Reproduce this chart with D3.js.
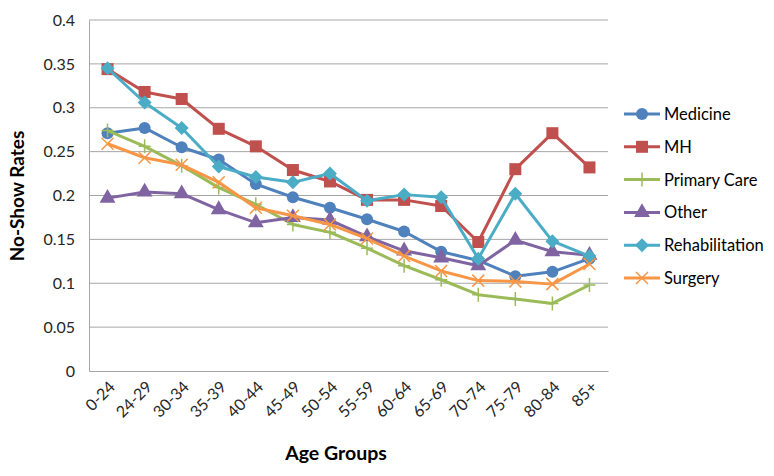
<!DOCTYPE html>
<html><head><meta charset="utf-8">
<script src="https://cdn.jsdelivr.net/npm/d3@7"></script>
<style>body{margin:0;background:#fff}svg{display:block}text{font-family:Lato,"Open Sans",sans-serif}</style>
</head><body><svg id="c" width="774" height="476"></svg>
<script>
const categories = ["0-24","24-29","30-34","35-39","40-44","45-49","50-54","55-59","60-64","65-69","70-74","75-79","80-84","85+"];
const seriesNames = ["Medicine","MH","Primary Care","Other","Rehabilitation","Surgery"];
const medicine = [0.271,0.277,0.255,0.241,0.213,0.198,0.186,0.173,0.159,0.136,0.126,0.108,0.113,0.128];
const mh = [0.344,0.318,0.310,0.276,0.256,0.229,0.216,0.195,0.195,0.188,0.147,0.230,0.271,0.232];
const primaryCare = [0.274,0.256,0.234,0.209,0.190,0.167,0.158,0.140,0.120,0.104,0.087,0.082,0.077,0.098];
const other = [0.197,0.204,0.202,0.184,0.169,0.175,0.172,0.153,0.137,0.129,0.120,0.149,0.136,0.132];
const rehabilitation = [0.345,0.306,0.277,0.233,0.221,0.215,0.225,0.194,0.201,0.198,0.128,0.202,0.148,0.131];
const surgery = [0.259,0.243,0.235,0.215,0.186,0.177,0.167,0.151,0.131,0.114,0.103,0.102,0.099,0.122];
const yTicks = [0,0.05,0.1,0.15,0.2,0.25,0.3,0.35,0.4];

const colors = ["#4F81BD","#C0504D","#9BBB59","#8064A2","#4BACC6","#F79646"];
const markers = ["circle","square","plus","triangle","diamond","cross"];
const data = [medicine,mh,primaryCare,other,rehabilitation,surgery];

const svg = d3.select("#c");
const L=89,R=608,T=20,B=371;
const x = d3.scalePoint().domain(categories).range([L,R]).padding(0.5);
const y = d3.scaleLinear().domain([0,0.4]).range([B,T]);

// gridlines
svg.append("g").selectAll("line").data(yTicks.filter(d=>d>0)).join("line")
  .attr("x1",L).attr("x2",R).attr("y1",d=>y(d)).attr("y2",d=>y(d))
  .attr("stroke","#a6a6a6").attr("stroke-width",1);
// axes
const yAxis = svg.append("g").attr("transform",`translate(${L},0)`)
  .call(d3.axisLeft(y).tickValues(yTicks).tickSize(0).tickPadding(14).tickFormat(d=>d3.format("")(+d.toFixed(2))));
yAxis.select(".domain").attr("stroke","#a6a6a6");
yAxis.selectAll("text").attr("font-size",16).attr("fill","#262626").style("font-family","Lato,'Open Sans',sans-serif");
const xAxis = svg.append("g").attr("transform",`translate(0,${B})`)
  .call(d3.axisBottom(x).tickSize(0).tickPadding(0));
xAxis.select(".domain").attr("stroke","#a6a6a6");
xAxis.selectAll("text").attr("font-size",16).attr("fill","#262626")
  .style("font-family","Lato,'Open Sans',sans-serif")
  .attr("text-anchor","end").attr("dy",null).attr("y",0)
  .attr("transform","translate(8,17) rotate(-45)");

// axis titles
svg.append("text").attr("x",336).attr("y",460).attr("text-anchor","middle")
  .attr("font-size",19.5).attr("font-weight","bold").attr("fill","#000").text("Age Groups");
svg.append("text").attr("transform","translate(24,196) rotate(-90)").attr("text-anchor","middle")
  .attr("font-size",19).attr("font-weight","bold").attr("fill","#000").text("No-Show Rates");

function drawMarker(g, type, color){
  if(type==="circle") g.append("circle").attr("r",6).attr("fill",color);
  else if(type==="square") g.append("rect").attr("x",-6).attr("y",-6).attr("width",12).attr("height",12).attr("fill",color);
  else if(type==="triangle") g.append("path").attr("d",d3.symbol(d3.symbolTriangle,110)()).attr("fill",color);
  else if(type==="diamond") g.append("path").attr("d","M0,-7L7,0L0,7L-7,0Z").attr("fill",color);
  else if(type==="plus") g.append("path").attr("d","M-6,0H6M0,-7V7").attr("stroke",color).attr("stroke-width",1.5).attr("fill","none");
  else if(type==="cross") g.append("path").attr("d","M-6,-6L6,6M-6,6L6,-6").attr("stroke",color).attr("stroke-width",1.5).attr("fill","none");
}

const line = d3.line().x((d,i)=>x(categories[i])).y(d=>y(d));
data.forEach((vals,si)=>{
  svg.append("path").datum(vals).attr("d",line).attr("fill","none")
    .attr("stroke",colors[si]).attr("stroke-width",3).attr("stroke-linejoin","round");
  vals.forEach((v,i)=>{
    const g = svg.append("g").attr("transform",`translate(${x(categories[i])},${y(v)})`);
    drawMarker(g,markers[si],colors[si]);
  });
});

// legend
const leg = svg.append("g");
seriesNames.forEach((n,i)=>{
  const yy = 114 + i*32.8;
  leg.append("line").attr("x1",624).attr("x2",660).attr("y1",yy).attr("y2",yy)
    .attr("stroke",colors[i]).attr("stroke-width",3);
  const g = leg.append("g").attr("transform",`translate(642,${yy})`);
  drawMarker(g,markers[i],colors[i]);
  leg.append("text").attr("x",664).attr("y",yy+6).attr("font-size",16.5).attr("fill","#000").text(n);
});
</script></body></html>
